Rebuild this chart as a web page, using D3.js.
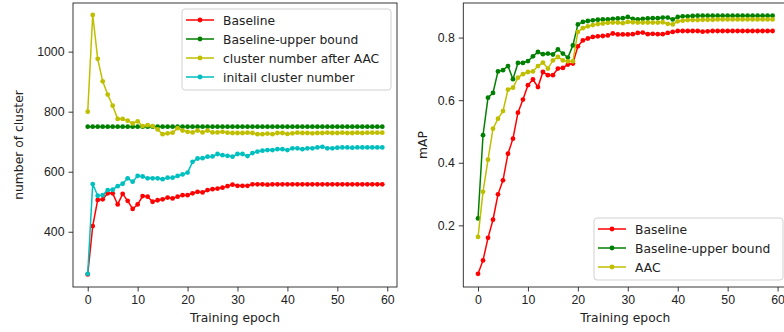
<!DOCTYPE html>
<html>
<head>
<meta charset="utf-8">
<script src="https://cdn.jsdelivr.net/npm/d3@7"></script>
<style>
  body { margin: 0; background: #fff; }
  svg { font-family: "DejaVu Sans", sans-serif; }
</style>
</head>
<body>
<svg id="chart" width="784" height="332"></svg>
<script>
// epochs 0..59
var epochs = d3.range(0, 60);
var xTicks = [0, 10, 20, 30, 40, 50, 60];

// left panel: number of clusters
var clusterBaseline = [258, 419, 506, 508, 528, 528, 491, 526, 503, 476, 491, 519, 517, 500, 505, 508, 514, 511, 517, 522,
  522, 528, 533, 531, 539, 542, 544, 547, 552, 557, 553, 553, 553, 558, 558, 558, 557, 558, 558, 558,
  558, 558, 558, 558, 558, 558, 558, 558, 558, 558, 558, 558, 558, 558, 558, 558, 558, 558, 558, 558];
var clusterUpper = epochs.map(function () { return 750; });
var clusterAAC = [800, 1122, 976, 901, 857, 820, 776, 776, 770, 761, 768, 752, 755, 752, 741, 725, 728, 730, 745, 737,
  733, 731, 737, 731, 737, 731, 731, 733, 730, 729, 729, 729, 730, 729, 725, 725, 727, 725, 729, 729,
  726, 728, 730, 729, 729, 728, 729, 729, 730, 729, 729, 730, 729, 729, 730, 729, 730, 730, 730, 730];
var clusterInit = [260, 559, 520, 522, 539, 540, 552, 560, 578, 567, 586, 584, 578, 578, 578, 575, 580, 580, 586, 591,
  597, 633, 644, 645, 650, 651, 659, 655, 653, 650, 659, 659, 652, 662, 667, 670, 672, 672, 675, 675,
  672, 678, 678, 675, 678, 678, 681, 683, 678, 678, 680, 681, 681, 680, 681, 681, 681, 681, 681, 681];
var leftYTicks = [400, 600, 800, 1000];

// right panel: mAP
var mapBaseline = [0.045, 0.088, 0.160, 0.218, 0.299, 0.344, 0.429, 0.477, 0.560, 0.602, 0.648, 0.666, 0.642, 0.690, 0.680, 0.680, 0.701, 0.703, 0.714, 0.717,
  0.772, 0.791, 0.797, 0.802, 0.804, 0.805, 0.807, 0.813, 0.810, 0.810, 0.810, 0.811, 0.815, 0.816, 0.811, 0.812, 0.811, 0.811, 0.815, 0.818,
  0.821, 0.821, 0.821, 0.821, 0.821, 0.819, 0.820, 0.821, 0.821, 0.821, 0.821, 0.821, 0.821, 0.821, 0.821, 0.821, 0.821, 0.821, 0.821, 0.821];
var mapUpper = [0.222, 0.488, 0.608, 0.623, 0.692, 0.696, 0.709, 0.667, 0.719, 0.719, 0.725, 0.740, 0.754, 0.747, 0.749, 0.746, 0.762, 0.749, 0.736, 0.775,
  0.842, 0.850, 0.853, 0.855, 0.857, 0.858, 0.858, 0.860, 0.861, 0.862, 0.866, 0.860, 0.858, 0.860, 0.861, 0.862, 0.862, 0.864, 0.864, 0.858,
  0.866, 0.868, 0.868, 0.869, 0.870, 0.870, 0.870, 0.870, 0.870, 0.870, 0.870, 0.870, 0.870, 0.870, 0.870, 0.870, 0.870, 0.870, 0.870, 0.870];
var mapAAC = [0.163, 0.307, 0.410, 0.509, 0.541, 0.565, 0.634, 0.640, 0.672, 0.683, 0.690, 0.692, 0.709, 0.720, 0.701, 0.727, 0.738, 0.727, 0.724, 0.724,
  0.818, 0.830, 0.836, 0.840, 0.843, 0.845, 0.847, 0.848, 0.848, 0.846, 0.850, 0.849, 0.848, 0.848, 0.848, 0.848, 0.848, 0.849, 0.844, 0.842,
  0.852, 0.854, 0.856, 0.856, 0.856, 0.857, 0.857, 0.857, 0.858, 0.858, 0.858, 0.858, 0.858, 0.858, 0.858, 0.858, 0.858, 0.858, 0.858, 0.858];
var rightYTicks = [0.2, 0.4, 0.6, 0.8];

var svg = d3.select("#chart");
var fontSize = 12.3;

function drawPanel(opt) {
  var x = d3.scaleLinear().domain([-2.95, 61.95]).range([opt.left, opt.right]);
  var y = d3.scaleLinear().domain(opt.yDomain).range([opt.bottom, opt.top]);
  var g = svg.append("g");

  // x axis
  var xa = g.append("g")
    .attr("transform", "translate(0," + opt.bottom + ")")
    .call(d3.axisBottom(x).tickValues(xTicks).tickSize(4.5).tickPadding(4));
  // y axis
  var ya = g.append("g")
    .attr("transform", "translate(" + opt.left + ",0)")
    .call(d3.axisLeft(y).tickValues(opt.yTicks).tickSize(4.5).tickPadding(4).tickFormat(opt.fmt));
  [xa, ya].forEach(function (a) {
    a.select(".domain").remove();
    a.selectAll("line").attr("stroke", "#222").attr("stroke-width", 0.9);
    a.selectAll("text").attr("fill", "#222").style("font-size", fontSize + "px");
  });

  // spines
  g.append("rect")
    .attr("x", opt.left).attr("y", opt.top)
    .attr("width", opt.right - opt.left).attr("height", opt.bottom - opt.top)
    .attr("fill", "none").attr("stroke", "#222").attr("stroke-width", 0.9);

  var line = d3.line().x(function (d, i) { return x(i); }).y(function (d) { return y(d); });
  opt.series.forEach(function (s) {
    g.append("path").datum(s.values)
      .attr("d", line).attr("fill", "none")
      .attr("stroke", s.color).attr("stroke-width", 1.5);
    g.selectAll(null).data(s.values).enter().append("circle")
      .attr("cx", function (d, i) { return x(i); })
      .attr("cy", function (d) { return y(d); })
      .attr("r", 2.4).attr("fill", s.color);
  });

  // axis labels
  g.append("text")
    .attr("x", (opt.left + opt.right) / 2).attr("y", 322)
    .attr("text-anchor", "middle").attr("fill", "#222")
    .style("font-size", fontSize + "px").text("Training epoch");
  g.append("text")
    .attr("transform", "translate(" + opt.ylabelX + "," + ((opt.top + opt.bottom) / 2) + ") rotate(-90)")
    .attr("text-anchor", "middle").attr("fill", "#222")
    .style("font-size", fontSize + "px").text(opt.ylabel);

  // legend
  var L = opt.legend;
  var lg = g.append("g");
  lg.append("rect")
    .attr("x", L.x).attr("y", L.y).attr("width", L.w).attr("height", L.h)
    .attr("rx", 3).attr("fill", "#fff").attr("fill-opacity", 0.8)
    .attr("stroke", "#cccccc").attr("stroke-width", 0.9);
  opt.series.forEach(function (s, i) {
    var cy = L.y + L.first + i * L.step;
    lg.append("line")
      .attr("x1", L.x + 4).attr("x2", L.x + 32).attr("y1", cy).attr("y2", cy)
      .attr("stroke", s.color).attr("stroke-width", 1.5);
    lg.append("circle").attr("cx", L.x + 18).attr("cy", cy).attr("r", 2.4).attr("fill", s.color);
    lg.append("text")
      .attr("x", L.x + 41).attr("y", cy + 4.5)
      .attr("fill", "#222").style("font-size", fontSize + "px").text(s.name);
  });
}

drawPanel({
  left: 73, right: 397, top: 3, bottom: 287,
  yDomain: [216, 1162], yTicks: leftYTicks, fmt: d3.format("d"),
  ylabel: "number of cluster", ylabelX: 23,
  series: [
    { name: "Baseline", color: "#ff0000", values: clusterBaseline },
    { name: "Baseline-upper bound", color: "#008000", values: clusterUpper },
    { name: "cluster number after AAC", color: "#bfbf00", values: clusterAAC },
    { name: "initail cluster number", color: "#00bfbf", values: clusterInit }
  ],
  legend: { x: 182, y: 9, w: 209, h: 81, first: 11, step: 19 }
});

drawPanel({
  left: 463.3, right: 787.3, top: 3, bottom: 287,
  yDomain: [0.003, 0.9105], yTicks: rightYTicks, fmt: d3.format(".1f"),
  ylabel: "mAP", ylabelX: 427,
  series: [
    { name: "Baseline", color: "#ff0000", values: mapBaseline },
    { name: "Baseline-upper bound", color: "#008000", values: mapUpper },
    { name: "AAC", color: "#bfbf00", values: mapAAC }
  ],
  legend: { x: 594, y: 218, w: 189, h: 62, first: 11, step: 19 }
});
</script>
</body>
</html>
